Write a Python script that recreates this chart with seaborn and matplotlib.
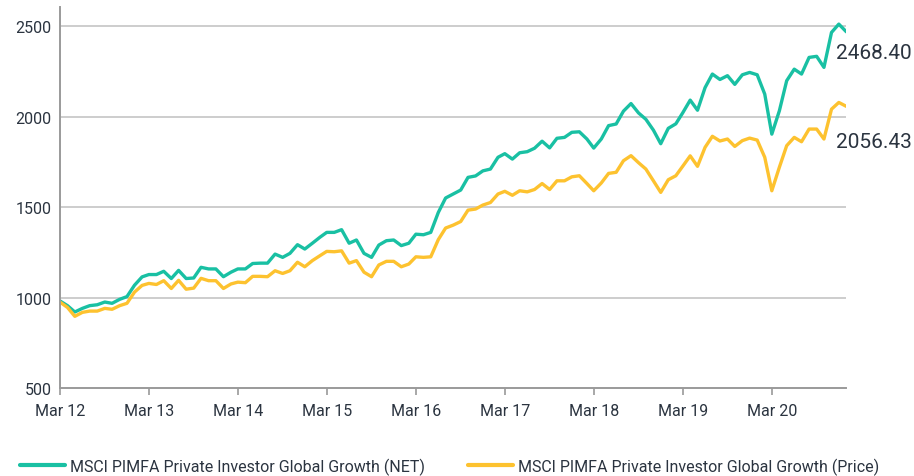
import numpy as np
import pandas as pd
import matplotlib
matplotlib.use("Agg")
import matplotlib.pyplot as plt
import seaborn as sns

# Monthly index levels, March 2012 onwards
net_values = [
    981, 955, 920, 940, 955, 960, 975, 968, 990, 1005,
    1068, 1114, 1127, 1127, 1145, 1105, 1150, 1105, 1108, 1167,
    1158, 1158, 1115, 1140, 1158, 1158, 1188, 1190, 1190, 1240,
    1222, 1244, 1292, 1268, 1300, 1333, 1360, 1360, 1375, 1300,
    1318, 1244, 1222, 1290, 1314, 1318, 1287, 1300, 1350, 1347,
    1360, 1470, 1550, 1572, 1594, 1664, 1672, 1700, 1710, 1775,
    1795, 1765, 1800, 1806, 1825, 1864, 1827, 1880, 1885, 1913,
    1916, 1876, 1826, 1876, 1950, 1959, 2030, 2072, 2020, 1985,
    1925, 1850, 1935, 1960, 2020, 2091, 2035, 2160, 2235, 2205,
    2226, 2178, 2231, 2244, 2231, 2124, 1903, 2032, 2198, 2262,
    2235, 2327, 2333, 2272, 2465, 2511, 2468.40,
]
price_values = [
    975, 945, 896, 918, 925, 925, 940, 935, 955, 968,
    1030, 1067, 1078, 1072, 1093, 1050, 1095, 1046, 1052, 1106,
    1093, 1093, 1050, 1075, 1085, 1082, 1117, 1117, 1115, 1148,
    1133, 1148, 1195, 1170, 1204, 1231, 1255, 1253, 1258, 1190,
    1204, 1140, 1115, 1180, 1200, 1200, 1170, 1185, 1225, 1222,
    1225, 1320, 1384, 1400, 1420, 1483, 1489, 1511, 1525, 1572,
    1587, 1565, 1590, 1584, 1597, 1630, 1597, 1645, 1645, 1667,
    1673, 1630, 1590, 1633, 1686, 1692, 1756, 1784, 1745, 1710,
    1645, 1581, 1651, 1673, 1725, 1783, 1725, 1830, 1891, 1865,
    1876, 1835, 1867, 1881, 1870, 1775, 1590, 1720, 1839, 1885,
    1861, 1931, 1931, 1876, 2041, 2078, 2056.43,
]
series_names = [
    "MSCI PIMFA Private Investor Global Growth (NET)",
    "MSCI PIMFA Private Investor Global Growth (Price)",
]
tick_years = [2012, 2013, 2014, 2015, 2016, 2017, 2018, 2019, 2020]
tick_labels = ["Mar 12", "Mar 13", "Mar 14", "Mar 15", "Mar 16",
               "Mar 17", "Mar 18", "Mar 19", "Mar 20"]
y_ticks = [500, 1000, 1500, 2000, 2500]

colors = ["#19C0A3", "#FDC22F"]
text_color = "#2B3440"

dates = pd.date_range("2012-03-01", periods=len(net_values), freq="MS")
df = pd.concat([
    pd.DataFrame({"date": dates, "value": net_values, "series": series_names[0]}),
    pd.DataFrame({"date": dates, "value": price_values, "series": series_names[1]}),
])

sns.set_theme(style="white")
plt.rcParams["font.family"] = ["Roboto", "DejaVu Sans"]

fig = plt.figure(figsize=(9.14, 4.77), dpi=100)
ax = fig.add_axes([0.0656, 0.1845, 0.8604, 0.7985])

sns.lineplot(data=df, x="date", y="value", hue="series", palette=colors,
             linewidth=2.4, ax=ax, legend=False)

ax.set_ylim(500, 2605)
ax.set_xlim(dates[0], dates[-1])
ax.set_yticks(y_ticks)
ax.set_yticklabels([str(v) for v in y_ticks])
ax.set_xticks([pd.Timestamp(f"{y}-03-01") for y in tick_years])
ax.set_xticklabels(tick_labels)
ax.set_xlabel("")
ax.set_ylabel("")

for v in y_ticks[1:]:
    ax.axhline(v, color="#CDCDCD", linewidth=1.4, zorder=0)

for side in ["top", "right"]:
    ax.spines[side].set_visible(False)
for side in ["left", "bottom"]:
    ax.spines[side].set_color("#9A9A9A")
    ax.spines[side].set_linewidth(1.4)

ax.tick_params(axis="y", length=0, pad=6, labelsize=11.5, labelcolor=text_color)
ax.tick_params(axis="x", length=5, width=1.2, color="#9A9A9A", direction="out",
               pad=6, labelsize=11.5, labelcolor=text_color, bottom=True)

# End-of-series value labels
for vals, dy in [(net_values, -21), (price_values, -35)]:
    ax.annotate(f"{vals[-1]:.2f}", xy=(dates[-1], vals[-1]),
                xytext=(-10, dy), textcoords="offset pixels",
                ha="left", va="center", fontsize=15, color=text_color,
                annotation_clip=False)

handles = [plt.Line2D([], [], color=c, linewidth=3) for c in colors]
fig.legend(handles, series_names, loc="center", bbox_to_anchor=(0.4918, 0.021),
           ncol=2, frameon=False, fontsize=11.5, handlelength=2.8,
           handletextpad=0.31, columnspacing=2.7, labelcolor=text_color,
           borderpad=0, borderaxespad=0)

fig.savefig("out.png", dpi=100)
